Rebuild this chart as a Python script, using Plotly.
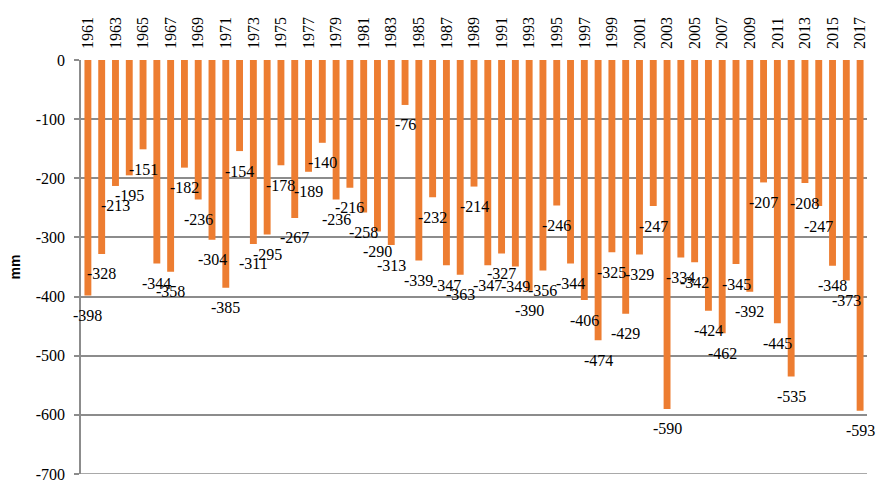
import plotly.graph_objects as go

years = list(range(1961, 2018))
values = [-398, -328, -213, -195, -151, -344, -358, -182, -236, -304,
          -385, -154, -311, -295, -178, -267, -189, -140, -236, -216,
          -258, -290, -313, -76, -339, -232, -347, -363, -214, -347,
          -327, -349, -390, -356, -246, -344, -406, -474, -325, -429,
          -329, -247, -590, -334, -342, -424, -462, -345, -392, -207,
          -445, -535, -208, -247, -348, -373, -593]
tick_years = list(range(1961, 2018, 2))
y_ticks = [0, -100, -200, -300, -400, -500, -600, -700]
y_title = "mm"

BAR = "#ED7D31"
GRID = "#8C8C8C"
SERIF = "Liberation Serif"

fig = go.Figure()
fig.add_trace(go.Bar(x=years, y=values, marker=dict(color=BAR, line=dict(width=0)),
                     hoverinfo="x+y"))

annotations = []
for yr, v in zip(years, values):
    annotations.append(dict(x=yr, y=v, xref="x", yref="y", text=str(v),
                            showarrow=False, yshift=-20, yanchor="middle",
                            xanchor="center",
                            font=dict(family=SERIF, size=16, color="#000000")))

# bottom gridline at the lowest tick
fig.add_shape(type="line", xref="paper", x0=0, x1=1, yref="y",
              y0=min(y_ticks), y1=min(y_ticks),
              line=dict(color=GRID, width=1.5), layer="below")

fig.update_layout(
    width=878, height=480,
    margin=dict(l=81, r=11, t=60, b=6, autoexpand=False),
    paper_bgcolor="white", plot_bgcolor="white",
    bargap=0.5,
    showlegend=False,
    annotations=annotations,
    font=dict(family=SERIF),
    xaxis=dict(side="top", range=[1960.5, 2017.5], tickmode="array",
               tickvals=tick_years, ticktext=[str(t) for t in tick_years],
               tickangle=-90, showgrid=False, zeroline=False, showline=False,
               ticks="", ticklabelstandoff=10, automargin=False,
               tickfont=dict(family=SERIF, size=16, color="#000000")),
    yaxis=dict(range=[-700, 0], tickmode="array", tickvals=y_ticks,
               ticktext=[str(t) for t in y_ticks], automargin=False,
               ticklabeloverflow="allow",
               showgrid=True, gridcolor=GRID, gridwidth=1.5, zeroline=False,
               showline=True, linecolor=GRID, linewidth=1.5,
               ticks="outside", ticklen=5, tickcolor=GRID, tickwidth=1.5,
               ticklabelstandoff=6,
               tickfont=dict(family=SERIF, size=16, color="#000000"),
               title=dict(text=y_title, standoff=12,
                          font=dict(family="Liberation Sans", size=14,
                                    color="#000000", weight="bold"))),
)

fig.write_html("out.html", config={"displayModeBar": False},
               post_script="document.body.style.margin='0';document.body.style.overflow='hidden';")
